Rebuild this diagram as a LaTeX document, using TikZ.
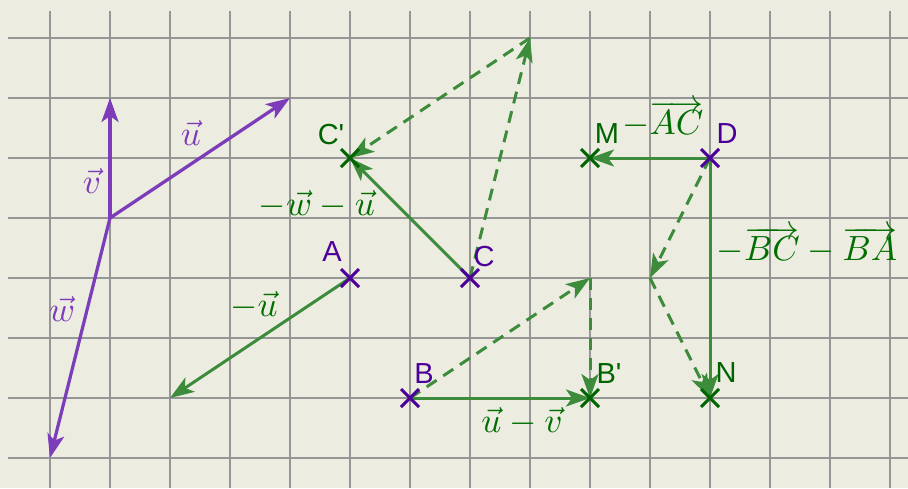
\documentclass[tikz,border=0pt]{standalone}
\usepackage{fontspec}
\newfontfamily\ptfont{Liberation Sans}
\usetikzlibrary{arrows.meta,shapes.misc}
\definecolor{bgcol}{RGB}{236,236,224}
\definecolor{gridcol}{RGB}{150,150,150}
\definecolor{vecpurple}{RGB}{125,60,185}
\definecolor{ptpurple}{RGB}{77,0,153}
\definecolor{arrgreen}{RGB}{60,140,60}
\definecolor{labgreen}{RGB}{0,110,0}
\definecolor{ptgreen}{RGB}{0,100,0}
\tikzset{
  gridline/.style={draw=gridcol, line width=1.8pt},
  tipstyle/.style={-{Stealth[length=24pt,width=17pt,inset=6pt]}},
  pvec/.style={tipstyle, draw=vecpurple, line width=3.2pt},
  gvec/.style={tipstyle, draw=arrgreen, line width=3pt},
  gdash/.style={gvec, dash pattern=on 12pt off 8pt},
  ptmark/.style={cross out, draw=#1, line width=3pt, minimum size=15pt, inner sep=0pt},
  ptlabel/.style={text=#1, font=\fontsize{29}{32}\selectfont\ptfont, inner sep=0pt},
  mlabel/.style={text=#1, font=\fontsize{10}{12}\selectfont, scale=3.5, inner sep=0pt}
}
\begin{document}
\begin{tikzpicture}[x=1pt,y=-1pt]
\fill[bgcol] (0,0) rectangle (908,488);
\useasboundingbox (0,0) rectangle (908,488);
% grid
\foreach \k in {0,...,7} {\draw[gridline] (8,38+60*\k) -- (908,38+60*\k);}
\foreach \k in {0,...,14} {\draw[gridline] (50+60*\k,11) -- (50+60*\k,488);}
% coordinates
\coordinate (O) at (110,218);
\coordinate (Ve) at (110,98);
\coordinate (Ue) at (290,98);
\coordinate (We) at (50,458);
\coordinate (A) at (350,278);
\coordinate (Ae) at (170,398);
\coordinate (C) at (470,278);
\coordinate (Cp) at (350,158);
\coordinate (T1) at (530,38);
\coordinate (B) at (410,398);
\coordinate (Bp) at (590,398);
\coordinate (T2) at (590,278);
\coordinate (D) at (710,158);
\coordinate (M) at (590,158);
\coordinate (N) at (710,398);
\coordinate (T3) at (650,278);
% purple vectors
\draw[pvec] (O) -- (Ve);
\draw[pvec] (O) -- (Ue);
\draw[pvec] (O) -- (We);
% green vectors
\draw[gvec] (A) -- (Ae);
\draw[gvec] (C) -- (Cp);
\draw[gdash] (C) -- (T1);
\draw[gdash] (T1) -- (Cp);
\draw[gvec] (B) -- (Bp);
\draw[gdash] (B) -- (T2);
\draw[gdash] (T2) -- (Bp);
\draw[gvec] (D) -- (M);
\draw[gvec] (D) -- (N);
\draw[gdash] (D) -- (T3);
\draw[gdash] (T3) -- (N);
% point marks
\node[ptmark=ptpurple] (xA) at (A) {};
\node[ptmark=ptpurple] (xC) at (C) {};
\node[ptmark=ptpurple] (xB) at (B) {};
\node[ptmark=ptpurple] (xD) at (D) {};
\node[ptmark=ptgreen] (xCp) at (Cp) {};
\node[ptmark=ptgreen] (xBp) at (Bp) {};
\node[ptmark=ptgreen] (xM) at (M) {};
\node[ptmark=ptgreen] (xN) at (N) {};
% point labels
\node[ptlabel=ptpurple] (lA) at (332,252) {A};
\node[ptlabel=ptpurple] (lC) at (484,257) {C};
\node[ptlabel=ptpurple] (lB) at (424,374) {B};
\node[ptlabel=ptpurple] (lD) at (727,134) {D};
\node[ptlabel=ptgreen] (lCp) at (331,135) {C'};
\node[ptlabel=ptgreen] (lBp) at (609,374) {B'};
\node[ptlabel=ptgreen] (lM) at (607,134) {M};
\node[ptlabel=ptgreen] (lN) at (726,373) {N};
% vector labels
\node[mlabel=vecpurple] (lu) at (191,133) {$\vec{u}$};
\node[mlabel=vecpurple] (lv) at (92,181) {$\vec{v}$};
\node[mlabel=vecpurple] (lw) at (62,309) {$\vec{w}$};
\node[mlabel=labgreen] (lmu) at (254,305) {$-\vec{u}$};
\node[mlabel=labgreen] (lmwu) at (317,204) {$-\vec{w}-\vec{u}$};
\node[mlabel=labgreen] (luv) at (522,421) {$\vec{u}-\vec{v}$};
\node[mlabel=labgreen] (lac) at (663,119) {$-\overrightarrow{AC}$};
\node[mlabel=labgreen] (lbcba) at (807,245) {$-\overrightarrow{BC}-\overrightarrow{BA}$};
\end{tikzpicture}
\end{document}
